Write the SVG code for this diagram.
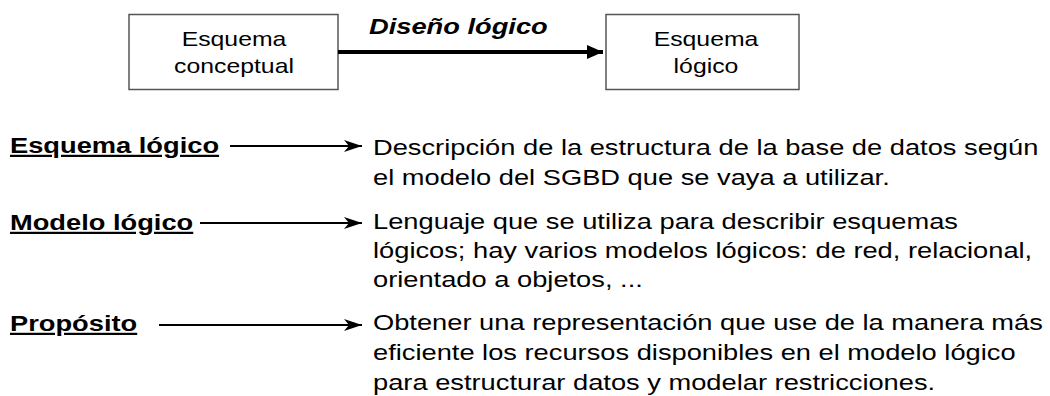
<svg xmlns="http://www.w3.org/2000/svg" width="1050" height="396" viewBox="0 0 1050 396">
<style>
  .t { font-family: "Liberation Sans", Arial, sans-serif; fill: #000; }
  .box { fill: #fff; stroke: #555; stroke-width: 1.5; }
  .bt { font-size: 20px; text-anchor: middle; }
  .lbl { font-size: 22px; font-weight: bold; text-decoration: underline; }
  .desc { font-size: 22px; }
  .ttl { font-size: 22px; font-weight: bold; font-style: italic; }
  .conn { stroke: #000; fill: none; }
</style>
<defs>
  <marker id="head" viewBox="0 0 18 12" refX="18" refY="6" markerWidth="18" markerHeight="12" markerUnits="userSpaceOnUse" orient="auto">
    <path d="M0,0 L18,6 L0,12 L5,6 Z" fill="#000"/>
  </marker>
  <marker id="headTop" viewBox="0 0 16 14" refX="16" refY="7" markerWidth="16" markerHeight="14" markerUnits="userSpaceOnUse" orient="auto">
    <path d="M0,0 L16,7 L0,14 Z" fill="#000"/>
  </marker>
</defs>
<rect width="1050" height="396" fill="#fff"/>

<g id="node-conceptual">
  <rect class="box" x="129" y="14.5" width="209" height="75"/>
  <text class="t bt" transform="translate(234,46) scale(1.24,1)">Esquema</text>
  <text class="t bt" transform="translate(234,73) scale(1.24,1)">conceptual</text>
</g>

<g id="node-logico">
  <rect class="box" x="606" y="14.5" width="193" height="75"/>
  <text class="t bt" transform="translate(706,46) scale(1.24,1)">Esquema</text>
  <text class="t bt" transform="translate(706,73) scale(1.24,1)">lógico</text>
</g>

<g id="title">
  <text class="t ttl" transform="translate(369,34) scale(1.24,1)">Diseño lógico</text>
</g>

<g id="term-esquema">
  <text class="t lbl" transform="translate(10,153) scale(1.24,1)">Esquema lógico</text>
</g>
<g id="term-modelo">
  <text class="t lbl" transform="translate(10,230) scale(1.24,1)">Modelo lógico</text>
</g>
<g id="term-proposito">
  <text class="t lbl" transform="translate(10,331) scale(1.24,1)">Propósito</text>
</g>

<g id="def-esquema">
  <text class="t desc" transform="translate(373,155) scale(1.24,1)">Descripción de la estructura de la base de datos según</text>
  <text class="t desc" transform="translate(373,185) scale(1.24,1)">el modelo del SGBD que se vaya a utilizar.</text>
</g>
<g id="def-modelo">
  <text class="t desc" transform="translate(373,229) scale(1.24,1)">Lenguaje que se utiliza para describir esquemas</text>
  <text class="t desc" transform="translate(373,258) scale(1.24,1)">lógicos; hay varios modelos lógicos: de red, relacional,</text>
  <text class="t desc" transform="translate(373,287) scale(1.24,1)">orientado a objetos, ...</text>
</g>
<g id="def-proposito">
  <text class="t desc" transform="translate(373,330) scale(1.24,1)">Obtener una representación que use de la manera más</text>
  <text class="t desc" transform="translate(373,360) scale(1.24,1)">eficiente los recursos disponibles en el modelo lógico</text>
  <text class="t desc" transform="translate(373,390) scale(1.24,1)">para estructurar datos y modelar restricciones.</text>
</g>

<g id="connectors">
  <line class="conn" x1="338" y1="52" x2="603" y2="52" stroke-width="4" marker-end="url(#headTop)"/>
  <line class="conn" x1="230" y1="146" x2="362" y2="146" stroke-width="2" marker-end="url(#head)"/>
  <line class="conn" x1="200" y1="223" x2="362" y2="223" stroke-width="2" marker-end="url(#head)"/>
  <line class="conn" x1="159" y1="325" x2="362" y2="325" stroke-width="2" marker-end="url(#head)"/>
</g>
</svg>
